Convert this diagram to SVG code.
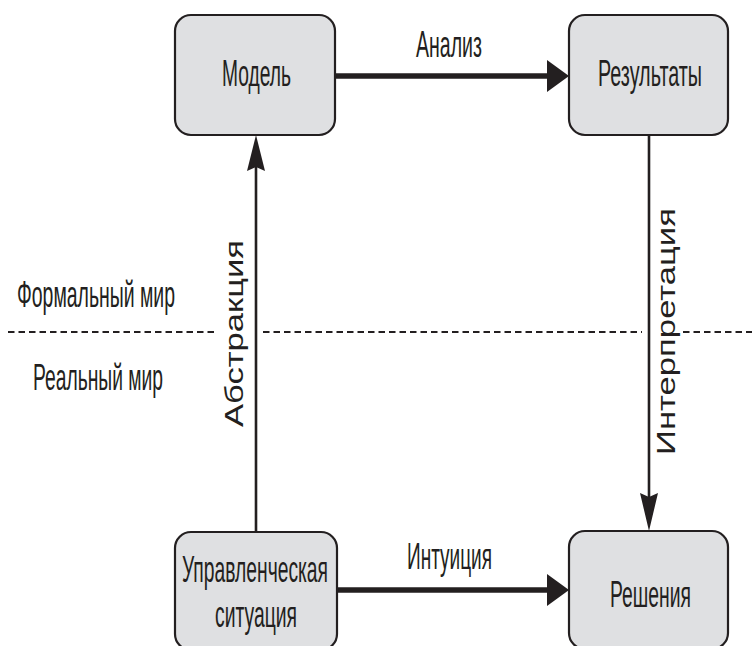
<svg xmlns="http://www.w3.org/2000/svg" width="752" height="646" viewBox="0 0 752 646">
<style>
.box{fill:#dfe0e2;stroke:#231f20;stroke-width:2.2}
.t{font-family:"Liberation Sans",Arial,sans-serif;font-size:37px;fill:#231f20}
.v{font-family:"Liberation Sans",Arial,sans-serif;font-size:25px;fill:#231f20}
.thick{stroke:#231f20;stroke-width:5.5;fill:none}
.thin{stroke:#231f20;stroke-width:2.6;fill:none}
.dash{stroke:#231f20;stroke-width:2;stroke-dasharray:6.5 4;fill:none}
.head{fill:#231f20}
</style>
<rect width="752" height="646" fill="#ffffff"/>
<g id="worlds">
<path class="dash" d="M8 332H217M263 332H642M683 332H752"/>
<text class="t" transform="translate(17,307) scale(0.54,1)" textLength="292.6" lengthAdjust="spacingAndGlyphs">Формальный мир</text>
<text class="t" transform="translate(33,390) scale(0.54,1)" textLength="240.7" lengthAdjust="spacingAndGlyphs">Реальный мир</text>
</g>
<g id="connectors">
<g id="e-analysis">
<line class="thick" x1="335" y1="76" x2="552" y2="76"/>
<polygon class="head" points="569,76 547,60 547,92"/>
<text class="t" transform="translate(416,57) scale(0.54,1)" textLength="122.2" lengthAdjust="spacingAndGlyphs">Анализ</text>
</g>
<g id="e-intuition">
<line class="thick" x1="337" y1="590" x2="552" y2="590"/>
<polygon class="head" points="569,590 547,574 547,606"/>
<text class="t" transform="translate(407,569) scale(0.54,1)" textLength="157.4" lengthAdjust="spacingAndGlyphs">Интуиция</text>
</g>
<g id="e-abstraction">
<line class="thin" x1="256" y1="532" x2="256" y2="165"/>
<polygon class="head" points="256,135 265,171 256,167 247,171"/>
<text class="v" transform="translate(243,427) rotate(-90)" textLength="187" lengthAdjust="spacingAndGlyphs">Абстракция</text>
</g>
<g id="e-interpretation">
<line class="thin" x1="649" y1="135" x2="649" y2="498"/>
<polygon class="head" points="649,531 658,493 649,497 640,493"/>
<text class="v" transform="translate(675,455) rotate(-90)" textLength="247" lengthAdjust="spacingAndGlyphs">Интерпретация</text>
</g>
</g>
<g id="model">
<rect class="box" x="175" y="15" width="160" height="120" rx="16"/>
<text class="t" transform="translate(222,86) scale(0.54,1)" textLength="127.8" lengthAdjust="spacingAndGlyphs">Модель</text>
</g>
<g id="results">
<rect class="box" x="569" y="15" width="159" height="120" rx="16"/>
<text class="t" transform="translate(598,86) scale(0.54,1)" textLength="192.6" lengthAdjust="spacingAndGlyphs">Результаты</text>
</g>
<g id="situation">
<rect class="box" x="175" y="532" width="162" height="118" rx="16"/>
<text class="t" transform="translate(182,582) scale(0.54,1)" textLength="270.4" lengthAdjust="spacingAndGlyphs">Управленческая</text>
<text class="t" transform="translate(215,627) scale(0.54,1)" textLength="151.9" lengthAdjust="spacingAndGlyphs">ситуация</text>
</g>
<g id="decisions">
<rect class="box" x="569" y="531" width="159" height="118" rx="16"/>
<text class="t" transform="translate(610,607) scale(0.54,1)" textLength="150" lengthAdjust="spacingAndGlyphs">Решения</text>
</g>
</svg>
